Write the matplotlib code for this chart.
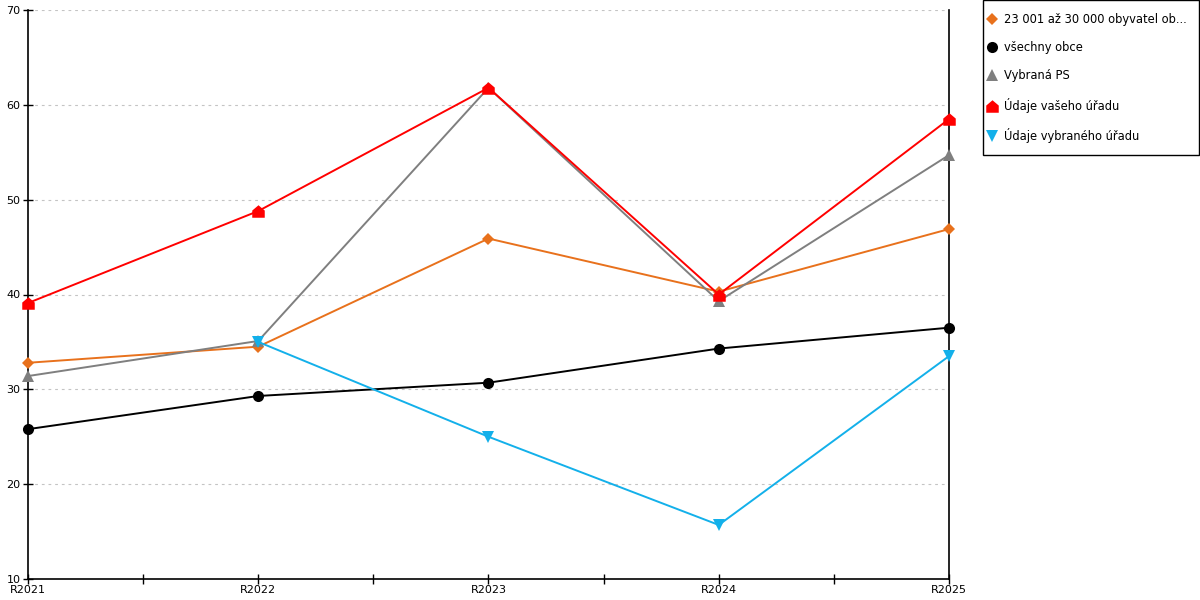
import matplotlib.pyplot as plt
import numpy as np
from matplotlib.path import Path
from matplotlib.patches import Rectangle
from matplotlib.ticker import MultipleLocator

years = ['R2021', 'R2022', 'R2023', 'R2024', 'R2025']

obce_23_30k = [32.8, 34.5, 45.9, 40.3, 46.9]
vsechny_obce = [25.8, 29.3, 30.7, 34.3, 36.5]
vybrana_ps = [31.4, 35.1, 61.8, 39.3, 54.7]
vas_urad = [39.1, 48.8, 61.8, 40.0, 58.5]
vybrany_urad = [None, 35.0, 25.0, 15.7, 33.5]

labels = ['23 001 až 30 000 obyvatel ob...', 'všechny obce', 'Vybraná PS',
          'Údaje vašeho úřadu', 'Údaje vybraného úřadu']

# house shaped marker for "Údaje vašeho úřadu"
house = Path([(-1, -1), (1, -1), (1, 0.15), (0, 1), (-1, 0.15), (-1, -1)],
             [Path.MOVETO, Path.LINETO, Path.LINETO, Path.LINETO, Path.LINETO, Path.CLOSEPOLY])

series = [
    (obce_23_30k, '#e8711c', 'D', 6),
    (vsechny_obce, '#000000', 'o', 8),
    (vybrana_ps, '#7f7f7f', '^', 8),
    (vas_urad, '#ff0000', house, 9),
    (vybrany_urad, '#13b0ea', 'v', 8),
]

plt.rcParams['font.family'] = ['DejaVu Sans']

fig = plt.figure(figsize=(12, 6), dpi=100)
ax = fig.add_axes([28 / 1200, 21 / 600, 921 / 1200, 569 / 600])

x = np.arange(len(years))
handles = []
for (vals, color, marker, ms), label in zip(series, labels):
    xs = [xi for xi, v in zip(x, vals) if v is not None]
    ys = [v for v in vals if v is not None]
    h, = ax.plot(xs, ys, color=color, lw=1.4, marker=marker, markersize=ms,
                 markeredgewidth=0, label=label, clip_on=False, zorder=3)
    handles.append(h)

ax.set_xlim(0, 4)
ax.set_ylim(10, 70)
ax.set_xticks(x)
ax.set_xticklabels(years)
ax.xaxis.set_minor_locator(MultipleLocator(0.5))
ax.yaxis.set_major_locator(MultipleLocator(10))
ax.tick_params(axis='both', which='both', direction='inout', length=7, width=1,
               labelsize=8, pad=1, colors='black')
ax.tick_params(axis='x', which='minor', length=7)
ax.tick_params(axis='y', pad=2)
ax.grid(axis='y', linestyle=(0, (2.5, 3.5)), color='#c4c4c4', lw=0.8)
ax.set_axisbelow(True)

ax.spines['top'].set_visible(False)
for s in ['left', 'bottom', 'right']:
    ax.spines[s].set_linewidth(1.2)
    ax.spines[s].set_color('black')

# legend frame drawn by hand, legend itself frameless
fig.patches.append(Rectangle((983 / 1200, 445 / 600), 216 / 1200, 154.5 / 600,
                             transform=fig.transFigure, facecolor='white',
                             edgecolor='black', lw=1.0, zorder=0))
leg = fig.legend(handles=handles, loc='upper left', bbox_to_anchor=(987 / 1200, 587 / 600),
                 frameon=False, fontsize=8.3,
                 handlelength=0.8, handletextpad=0.65, labelspacing=1.32,
                 borderpad=0, borderaxespad=0)
for line in leg.get_lines():
    line.set_linestyle('none')

fig.savefig('out.png', dpi=100)
